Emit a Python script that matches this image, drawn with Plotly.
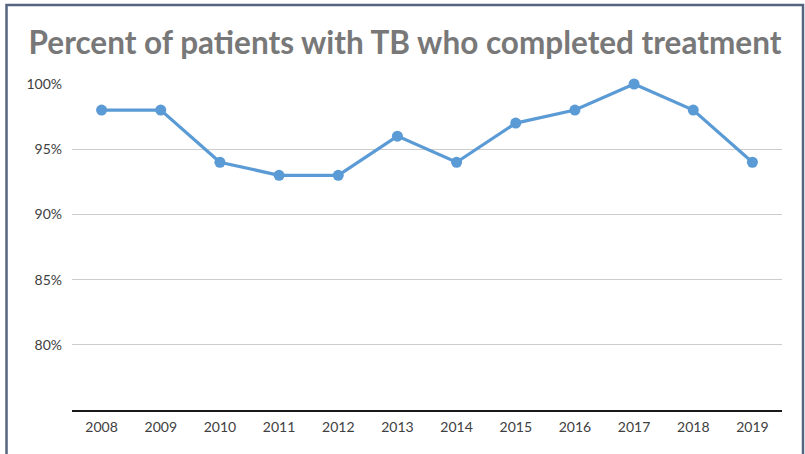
import plotly.graph_objects as go

years = ["2008", "2009", "2010", "2011", "2012", "2013", "2014", "2015", "2016", "2017", "2018", "2019"]
completed_pct = [98, 98, 94, 93, 93, 96, 94, 97, 98, 100, 98, 94]
y_ticks = [80, 85, 90, 95, 100]
y_tick_labels = ["80%", "85%", "90%", "95%", "100%"]
title_text = "Percent of patients with TB who completed treatment"

W, H = 805, 454
L, R, T, B = 72, 23, 84, 44
pw, ph = W - L - R, H - T - B

def px_to_paper_x(px):
    return (px - L) / pw

def px_to_paper_y(py):
    return (H - B - py) / ph

fig = go.Figure()
fig.add_trace(go.Scatter(
    x=years, y=completed_pct, mode="lines+markers",
    line=dict(color="#5b9bd5", width=3.2),
    marker=dict(color="#5b9bd5", size=11),
    cliponaxis=False, showlegend=False,
))

x0, x1 = px_to_paper_x(6.5), px_to_paper_x(803)
y0, y1 = px_to_paper_y(470), px_to_paper_y(5)
fig.add_shape(type="path", xref="paper", yref="paper",
              path=f"M {x0},{y0} L {x0},{y1} L {x1},{y1} L {x1},{y0}",
              line=dict(color="#56657f", width=2.5), layer="above")

fig.update_layout(
    width=W, height=H,
    margin=dict(l=L, r=R, t=T, b=B),
    paper_bgcolor="white", plot_bgcolor="white",
    title=dict(text=title_text, x=405 / W, xref="container", xanchor="center",
               y=1 - 43 / H, yref="container", yanchor="middle",
               font=dict(family="Lato, Liberation Sans, Arial", size=31.5, color="#787878", weight="bold")),
    font=dict(family="Lato, Liberation Sans, Arial", size=14, color="#404040"),
    xaxis=dict(type="category", range=[-0.5, 11.5], showgrid=False,
               showline=True, linecolor="#1a1a1a", linewidth=1.5,
               ticks="", ticklabelstandoff=3, tickfont=dict(size=14, color="#404040")),
    yaxis=dict(range=[75, 100], tickvals=y_ticks, ticktext=y_tick_labels,
               showgrid=True, gridcolor="#cccccc", gridwidth=1,
               zeroline=False, showline=False, ticks="",
               ticklabelstandoff=9, tickfont=dict(size=14, color="#404040")),
)

fig.write_html("out.html", config={"displayModeBar": False},
               post_script="document.body.style.margin='0';document.body.style.overflow='hidden';")
